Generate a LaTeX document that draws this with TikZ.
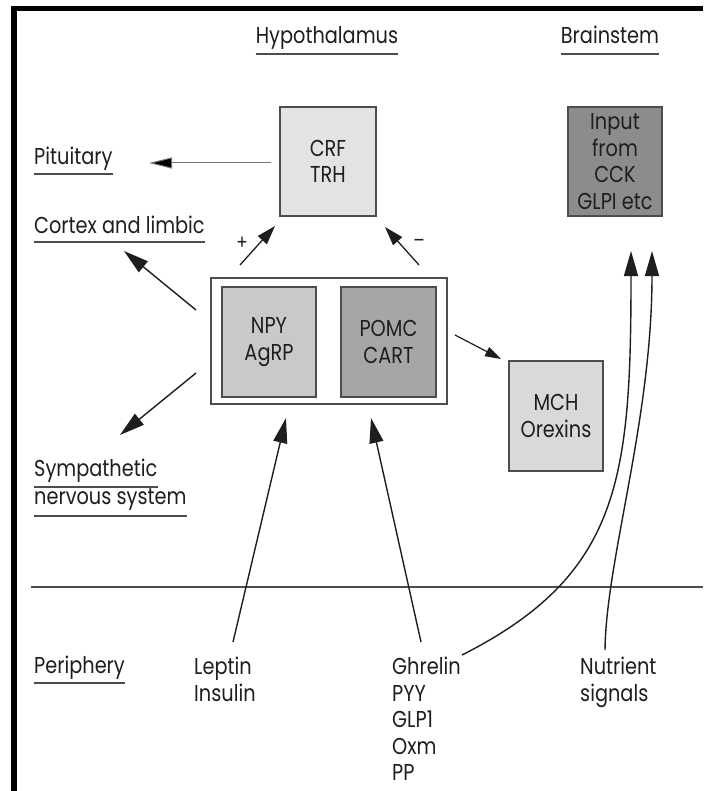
\documentclass[tikz,border=0pt]{standalone}
\usepackage{fontspec}
\setmainfont[FakeStretch=0.84]{Poppins}
\usetikzlibrary{arrows.meta}
\definecolor{txt}{HTML}{1E1E1E}
\definecolor{edge}{HTML}{4D4D4D}
\definecolor{crffill}{HTML}{E3E3E3}
\definecolor{inpfill}{HTML}{8C8C8C}
\definecolor{npyfill}{HTML}{C9C9C9}
\definecolor{pomcfill}{HTML}{A6A6A6}
\definecolor{mchfill}{HTML}{D9D9D9}
\begin{document}
\begin{tikzpicture}[x=1pt,y=-1pt,
  txtfont/.style={font=\fontsize{23}{26.5}\selectfont},
  lbl/.style={txtfont, inner sep=0pt, text=txt},
  cell/.style={txtfont, draw=edge, line width=1.3pt, inner sep=0pt, align=center, text=txt, minimum width=94pt, minimum height=109pt},
  ul/.style={draw=edge, line width=1.3pt},
  conn/.style={line width=1.4pt, draw=txt, -{Triangle[length=25pt,width=14pt]}},
  midconn/.style={line width=1.3pt, draw=txt, -{Triangle[length=19pt,width=12pt]}},
  smallconn/.style={line width=1.2pt, draw=txt, -{Triangle[length=16pt,width=10pt]}},
  thinconn/.style={line width=1pt, draw=black!55, -{Triangle[length=23pt,width=11pt, fill=black]}}
]
\useasboundingbox (0,0) rectangle (703,791);
\fill[white] (0,0) rectangle (703,791);
% frame
\fill[black] (11,6) rectangle (703,11.5);
\fill[black] (11,6) rectangle (16.5,791);

% headings and side labels
\node[lbl, anchor=base] (hyp) at (327,44) {Hypothalamus};
\node[lbl, anchor=base] (brain) at (610,44) {Brainstem};
\node[lbl, anchor=base west] (pit) at (34,165) {Pituitary};
\node[lbl, anchor=base west] (ctx) at (34,234) {Cortex and limbic};
\node[lbl, anchor=base west] (symp) at (34,476) {Sympathetic};
\node[lbl, anchor=base west] (nerv) at (34,504) {nervous system};
\node[lbl, anchor=base west] (peri) at (34,673) {Periphery};

\draw[ul] ([yshift=-10pt]hyp.base west) -- ([yshift=-10pt]hyp.base east);
\draw[ul] ([yshift=-10pt]brain.base west) -- ([yshift=-10pt]brain.base east);
\draw[ul] ([yshift=-9pt]pit.base west) -- ([yshift=-9pt]pit.base east);
\draw[ul] ([yshift=-8pt]ctx.base west) -- ([yshift=-8pt]ctx.base east);
\draw[ul] ([yshift=-11pt]symp.base west) -- ([yshift=-11pt]symp.base east);
\draw[ul] ([yshift=-12pt]nerv.base west) -- ([yshift=-12pt]nerv.base east);
\draw[ul] ([yshift=-10pt]peri.base west) -- ([yshift=-10pt]peri.base east);

% boxes
\node[cell, fill=crffill, minimum width=96pt] (crf) at (328,161.5) {CRF\\TRH};
\node[cell, fill=inpfill] (inp) at (615,161.5) {Input\\from\\CCK\\GLPI etc};
\node[draw=edge, line width=1.3pt, minimum width=236pt, minimum height=126pt, inner sep=0pt] (hub) at (329,341) {};
\node[cell, fill=npyfill, minimum height=110pt] (npy) at (269,342) {NPY\\AgRP};
\node[cell, fill=pomcfill, minimum height=110pt, minimum width=95pt] (pomc) at (388.5,342) {POMC\\CART};
\node[cell, fill=mchfill, minimum height=110pt] (mch) at (556,416) {MCH\\Orexins};

% periphery labels
\node[lbl, anchor=north west, align=left] (lep) at (194,657) {Leptin\\Insulin};
\node[lbl, anchor=north west, align=left] (ghr) at (392,657) {Ghrelin\\PYY\\GLP1\\Oxm\\PP};
\node[lbl, anchor=north west, align=left] (nut) at (580,657) {Nutrient\\signals};

% divider
\coordinate (divL) at (31,587);
\coordinate (divR) at (703,587);
\draw[draw=edge, line width=1.3pt] (divL) -- (divR);

% signs
\node[lbl, font=\fontsize{20}{20}\selectfont] (plus) at (242,243) {+};
\node[lbl, font=\fontsize{20}{20}\selectfont] (minus) at (419,243) {–};

% arrow end points
\coordinate (pitS) at (271,163);
\coordinate (pitE) at (149,163);
\coordinate (ctxS) at (196,310);
\coordinate (ctxE) at (124,251);
\coordinate (sympS) at (196,373);
\coordinate (sympE) at (120,435);
\coordinate (plusS) at (240,265);
\coordinate (plusE) at (275,226);
\coordinate (minS) at (419,265);
\coordinate (minE) at (385,227);
\coordinate (mchS) at (455,335);
\coordinate (mchE) at (501,359);
\coordinate (lepS) at (233,642);
\coordinate (lepE) at (286,418);
\coordinate (ghrS) at (421,642);
\coordinate (ghrE) at (371,418);
\coordinate (curS) at (462,655);
\coordinate (curE) at (631,251);
\coordinate (nutS) at (605,650);
\coordinate (nutE) at (652,251);

\draw[thinconn] (pitS) -- (pitE);
\draw[conn] (ctxS) -- (ctxE);
\draw[conn] (sympS) -- (sympE);
\draw[midconn] (plusS) -- (plusE);
\draw[midconn] (minS) -- (minE);
\draw[smallconn] (mchS) -- (mchE);
\draw[conn] (lepS) -- (lepE);
\draw[conn] (ghrS) -- (ghrE);
\draw[conn] (curS) .. controls (620,575) and (631,480) .. (curE);
\draw[conn] (nutS) .. controls (606,560) and (652,420) .. (nutE);
\end{tikzpicture}
\end{document}
